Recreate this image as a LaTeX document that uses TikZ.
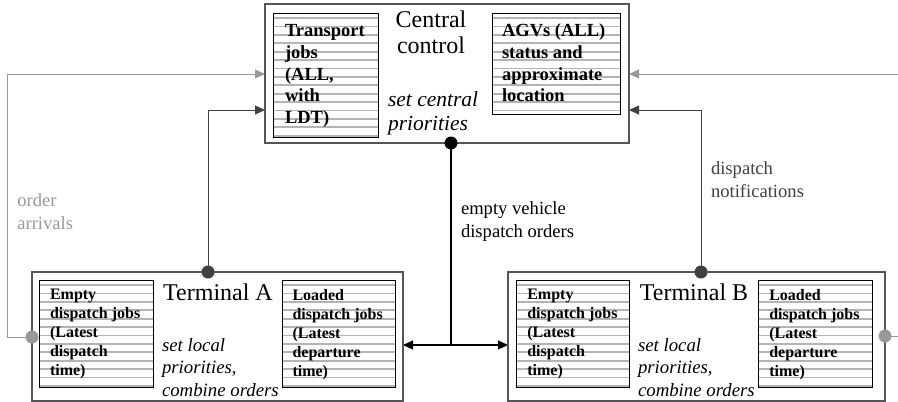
\documentclass[tikz,border=0pt]{standalone}
\usepackage{fontspec}
\setmainfont{Liberation Serif}
\usetikzlibrary{arrows.meta}
\pgfdeclarelayer{bg}
\pgfsetlayers{bg,main}
\definecolor{lgray}{HTML}{999999}
\definecolor{dgray}{HTML}{404040}
\definecolor{bgray}{HTML}{555555}
\definecolor{sgray}{HTML}{B4B4B4}
\begin{document}
\begin{tikzpicture}[x=1pt,y=-1pt,
  outerbox/.style={draw=bgray,line width=1.4pt,inner sep=0pt,outer sep=0pt},
  listbox/.style={draw=black,line width=0.9pt,inner sep=0pt,outer sep=0pt,
    path picture={\foreach \k in {0,...,16}{\draw[sgray,line width=1.8pt]
      ([yshift={-5-8.4*\k}]path picture bounding box.north west) --
      ([yshift={-5-8.4*\k}]path picture bounding box.north east);}}},
  bigtxt/.style={inner sep=0pt,outer sep=0pt,align=left,anchor=north west,
    font=\fontsize{18.5}{21.7}\selectfont\bfseries},
  smalltxt/.style={inner sep=0pt,outer sep=0pt,align=left,anchor=north west,
    font=\fontsize{16}{19}\selectfont\bfseries},
  title/.style={inner sep=0pt,outer sep=0pt,align=center,
    font=\fontsize{24}{26.7}\selectfont},
  itc/.style={inner sep=0pt,outer sep=0pt,align=left,anchor=north west,
    font=\fontsize{21.5}{24.5}\selectfont\itshape},
  iti/.style={inner sep=0pt,outer sep=0pt,align=left,anchor=north west,
    font=\fontsize{18.8}{22.5}\selectfont\itshape},
  lbl/.style={inner sep=0pt,outer sep=0pt,align=left,anchor=north west,
    font=\fontsize{18.6}{23}\selectfont},
  dot/.style={circle,inner sep=0pt,outer sep=0pt,minimum size=13pt},
  tip/.style={-{Triangle[length=10pt,width=9pt]}},
  grayline/.style={draw=lgray,line width=1pt},
  darkline/.style={draw=dgray,line width=1pt},
  blackline/.style={draw=black,line width=1.2pt}
]
\useasboundingbox (0,0) rectangle (898,402);

% outer boxes
\node[outerbox,minimum width=364pt,minimum height=139pt] (central) at (447,73.5) {};
\node[outerbox,minimum width=371pt,minimum height=129pt] (termA) at (217.5,336.5) {};
\node[outerbox,minimum width=377pt,minimum height=129pt] (termB) at (696.5,336.5) {};

% list boxes
\node[listbox,minimum width=105pt,minimum height=124pt] (cl) at (325.5,75) {};
\node[listbox,minimum width=128pt,minimum height=101pt] (cr) at (556,63.5) {};
\node[listbox,minimum width=114pt,minimum height=107pt] (al) at (96,333.5) {};
\node[listbox,minimum width=113pt,minimum height=107pt] (ar) at (338.5,333.5) {};
\node[listbox,minimum width=113pt,minimum height=107pt] (bl) at (572.5,333.5) {};
\node[listbox,minimum width=114pt,minimum height=107pt] (br) at (815,333.5) {};

% list texts
\node[bigtxt] (clt) at (285,24.5) {Transport\\jobs\\(ALL,\\with\\LDT)};
\node[bigtxt] (crt) at (502,24) {AGVs (ALL)\\status and\\approximate\\location};
\node[smalltxt] (alt) at (50,289.5) {Empty\\dispatch jobs\\(Latest\\dispatch\\time)};
\node[smalltxt] (art) at (292.5,289) {Loaded\\dispatch jobs\\(Latest\\departure\\time)};
\node[smalltxt] (blt) at (527.3,289.5) {Empty\\dispatch jobs\\(Latest\\dispatch\\time)};
\node[smalltxt] (brt) at (769.3,289) {Loaded\\dispatch jobs\\(Latest\\departure\\time)};

% titles
\node[title,anchor=north] (ctitle) at (431,10.5) {Central\\control};
\node[title,anchor=base] (atitle) at (218,300) {Terminal A};
\node[title,anchor=base] (btitle) at (694,300) {Terminal B};

% italic notes
\node[itc] (cit) at (388,91.5) {set central\\priorities};
\node[iti] (ait) at (162,338) {set local\\priorities,\\combine orders};
\node[iti] (bit) at (638,338) {set local\\priorities,\\combine orders};

% connector labels
\node[lbl,text=lgray] (lorder) at (17.3,193.3) {order\\arrivals};
\node[lbl,text=dgray] (lnotif) at (711,161.3) {dispatch\\notifications};
\node[lbl,text=black] (lempty) at (461,201.3) {empty vehicle\\dispatch orders};

% dots
\node[dot,fill=lgray] (gA) at (32,337) {};
\node[dot,fill=lgray] (gB) at (885,336) {};
\node[dot,fill=dgray] (dA) at (208,272) {};
\node[dot,fill=dgray] (dB) at (701,272) {};
\node[dot,fill=black] (cdot) at (451,143) {};

% free ends
\coordinate (lcorner) at (7.5,74);
\coordinate (rin) at (898,74);
\coordinate (rout) at (898,336);
\coordinate (ny) at (0,110);
\coordinate (my) at (0,345);

\begin{pgfonlayer}{bg}
\draw[grayline,tip] (gA.center) -| (lcorner) -- (central.west |- lcorner);
\draw[grayline,tip] (rin) -- (central.east |- rin);
\draw[grayline] (gB.center) -- (rout);
\draw[darkline,tip] (dA.center) |- (central.west |- ny);
\draw[darkline,tip] (dB.center) |- (central.east |- ny);
\coordinate (mid) at (cdot.center |- my);
\draw[blackline] (cdot.center) -- (mid);
\draw[blackline,tip] (mid) -- (termA.east |- mid);
\draw[blackline,tip] (mid) -- (termB.west |- mid);
\end{pgfonlayer}
\end{tikzpicture}
\end{document}
